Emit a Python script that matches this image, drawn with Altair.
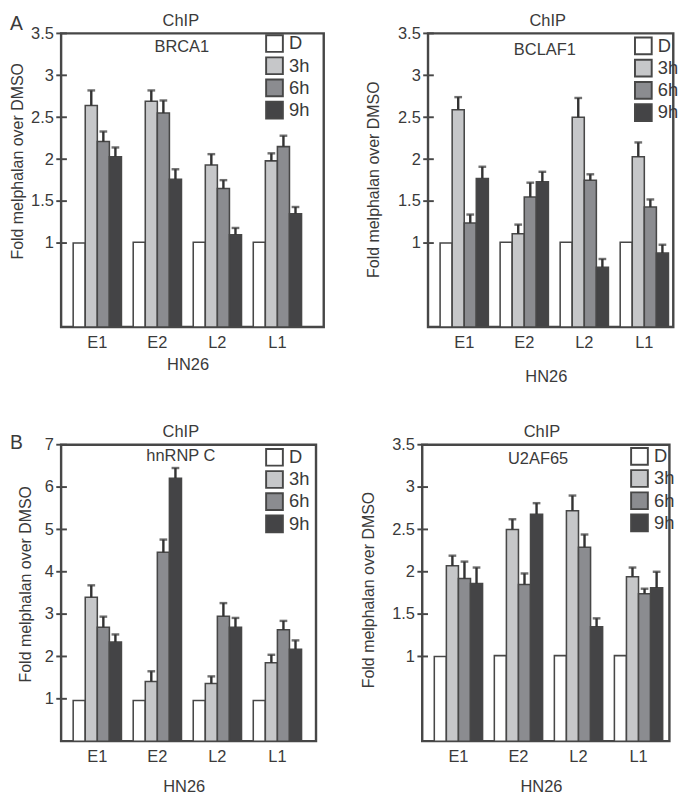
import altair as alt
import pandas as pd

FONT = "Liberation Sans"
TXT = "#3a3a3a"
LINE = "#474747"

cats = ["E1", "E2", "L2", "L1"]
series = ["D", "3h", "6h", "9h"]
colors = ["#ffffff", "#c6c7c9", "#8b8c90", "#444446"]

# values per category (rows) and series (columns)
brca1_val = [[1.00, 2.64, 2.21, 2.03], [1.01, 2.69, 2.55, 1.76], [1.01, 1.93, 1.65, 1.10], [1.01, 1.98, 2.15, 1.35]]
brca1_err = [[0, 0.18, 0.12, 0.11], [0, 0.13, 0.15, 0.12], [0, 0.13, 0.10, 0.08], [0, 0.09, 0.13, 0.08]]

bclaf1_val = [[1.00, 2.59, 1.24, 1.77], [1.01, 1.11, 1.55, 1.73], [1.01, 2.50, 1.75, 0.71], [1.01, 2.03, 1.43, 0.88]]
bclaf1_err = [[0, 0.15, 0.10, 0.14], [0, 0.11, 0.17, 0.12], [0, 0.23, 0.07, 0.10], [0, 0.17, 0.09, 0.10]]

hnrnp_val = [[0.96, 3.40, 2.69, 2.34], [0.96, 1.41, 4.46, 6.21], [0.96, 1.36, 2.95, 2.69], [0.96, 1.85, 2.63, 2.17]]
hnrnp_err = [[0, 0.28, 0.25, 0.18], [0, 0.24, 0.30, 0.24], [0, 0.17, 0.31, 0.22], [0, 0.19, 0.21, 0.21]]

u2af_val = [[1.00, 2.07, 1.92, 1.86], [1.01, 2.50, 1.85, 2.68], [1.01, 2.72, 2.29, 1.35], [1.01, 1.94, 1.74, 1.81]]
u2af_err = [[0, 0.12, 0.20, 0.19], [0, 0.12, 0.13, 0.13], [0, 0.18, 0.15, 0.10], [0, 0.11, 0.06, 0.19]]

ticks_35 = [1, 1.5, 2, 2.5, 3, 3.5]
ticks_7 = [1, 2, 3, 4, 5, 6, 7]


def panel(name, vals, errs, ymax, yticks, width, height, legx, legy,
          subx, suby, ytx, yty, xty, letter=None, lety=0):
    rows = []
    for ci, c in enumerate(cats):
        for si, s in enumerate(series):
            v = vals[ci][si]
            e = errs[ci][si]
            rows.append({"cat": c, "series": s, "val": v, "err": e, "top": v + e})
    df = pd.DataFrame(rows)
    base = alt.Chart(df)
    xscale = alt.Scale(range=[12.5, 249], paddingInner=0.196, paddingOuter=0)
    xoff = alt.XOffset("series:N", sort=series,
                       scale=alt.Scale(paddingInner=0, paddingOuter=0))
    yscale = alt.Scale(domain=[0, ymax], nice=False, zero=True)
    bars = base.mark_bar(stroke=LINE, strokeWidth=1.6).encode(
        x=alt.X("cat:N", sort=cats, scale=xscale,
                axis=alt.Axis(title="HN26", ticks=False, tickSize=0, labelPadding=16.5,
                              labelBaseline="middle", labelAngle=0, labelFontSize=17,
                              titleX=width / 2 - 5, titleY=xty, titleBaseline="middle",
                              titleFontSize=17)),
        xOffset=xoff,
        y=alt.Y("val:Q", scale=yscale,
                axis=alt.Axis(values=yticks, format="~g", ticks=False, tickSize=0,
                              labelPadding=8, labelFontSize=17,
                              title="Fold melphalan over DMSO", titleFontSize=16.5,
                              titleX=ytx, titleY=yty, titleBaseline="middle")),
        color=alt.Color("series:N", sort=series,
                        scale=alt.Scale(domain=series, range=colors),
                        legend=alt.Legend(title=None, orient="none", legendX=legx, legendY=legy,
                                          symbolType="square", symbolSize=300,
                                          symbolStrokeWidth=2, symbolStrokeColor=LINE,
                                          labelFontSize=19, labelOffset=5, rowPadding=-3.4,
                                          padding=0, labelFont=FONT, labelColor=TXT)),
    )
    errbase = base.transform_filter("datum.err > 0")
    stem = errbase.mark_rule(color="#333333", strokeWidth=2.5).encode(
        x=alt.X("cat:N", sort=cats, scale=xscale),
        xOffset=xoff,
        y=alt.Y("val:Q", scale=yscale),
        y2="top:Q",
    )
    cap = errbase.mark_tick(color="#333333", thickness=2.5, size=8).encode(
        x=alt.X("cat:N", sort=cats, scale=xscale),
        xOffset=xoff,
        y=alt.Y("top:Q", scale=yscale),
    )
    tick_rules = alt.Chart(pd.DataFrame({"t": yticks})).mark_rule(
        color=LINE, strokeWidth=2).encode(
        x=alt.value(-5), x2=alt.value(6), y=alt.Y("t:Q", scale=yscale))
    chip = alt.Chart(pd.DataFrame({"t": ["ChIP"]})).mark_text(
        font=FONT, fontSize=17, color=TXT, baseline="middle", align="center").encode(
        x=alt.value(124), y=alt.value(-13), text="t:N")
    sub = alt.Chart(pd.DataFrame({"t": [name]})).mark_text(
        font=FONT, fontSize=17, color=TXT, baseline="middle", align="center").encode(
        x=alt.value(subx), y=alt.value(suby), text="t:N")
    layers = [bars, stem, cap, tick_rules, chip, sub]
    if letter:
        lab = alt.Chart(pd.DataFrame({"t": [letter]})).mark_text(
            font=FONT, fontSize=20, color=TXT, baseline="middle", align="left").encode(
            x=alt.value(-53), y=alt.value(lety), text="t:N")
        layers.append(lab)
    return alt.layer(*layers).properties(width=width, height=height)


pA1 = panel("BRCA1", brca1_val, brca1_err, 3.5, ticks_35, 272, 304, 211, 0.5,
            125, 14, -45, 132, 39, letter="A", lety=-9.5)
pA2 = panel("BCLAF1", bclaf1_val, bclaf1_err, 3.5, ticks_35, 254, 304, 213, 3,
            121, 17.5, -56, 151, 52)
pB1 = panel("hnRNP C", hnrnp_val, hnrnp_err, 7, ticks_7, 264, 307, 211, 3,
            124, 12, -36.5, 144, 47, letter="B", lety=-1.5)
pB2 = panel("U2AF65", u2af_val, u2af_err, 3.5, ticks_35, 256, 307, 215, 2,
            120, 15, -55, 150, 47.5)

row1 = alt.hconcat(pA1, pA2, spacing=108, bounds="flush").resolve_scale(color="independent")
row2 = alt.hconcat(pB1, pB2, spacing=110, bounds="flush").resolve_scale(color="independent")

chart = alt.vconcat(row1, row2, spacing=36).properties(
    padding={"left": 0, "top": -12, "right": 0, "bottom": 0}
).resolve_scale(color="independent").configure_view(
    stroke=LINE, strokeWidth=2.5
).configure_axis(
    domain=False, grid=False, labelFont=FONT, titleFont=FONT,
    labelColor=TXT, titleColor=TXT, titleFontWeight="normal"
)

chart.save("out.html", embed_options={"renderer": "svg", "actions": False})
